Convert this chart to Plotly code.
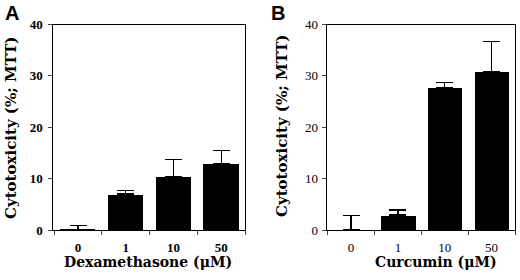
import plotly.graph_objects as go

categories = ["0", "1", "10", "50"]
dexa_values = [0.15, 7.0, 10.4, 13.0]
dexa_errors = [0.75, 0.75, 3.3, 2.5]
curc_values = [0.0, 2.9, 27.7, 30.8]
curc_errors = [2.8, 1.0, 1.0, 5.9]
y_ticks = [0, 10, 20, 30, 40]

SERIF = "Liberation Serif"
TITLE_SERIF = "DejaVu Serif"
fig = go.Figure()

def add_bars(values, errors, xa, ya):
    fig.add_trace(go.Bar(
        x=categories, y=values, xaxis=xa, yaxis=ya,
        marker=dict(color="black", line=dict(width=0)),
        width=0.74,
        error_y=dict(type="data", array=errors, arrayminus=[0]*len(errors),
                     symmetric=False, color="black", thickness=1.3, width=8.5),
        showlegend=False, hoverinfo="skip",
    ))

add_bars(dexa_values, dexa_errors, "x", "y")
add_bars(curc_values, curc_errors, "x2", "y2")

ydom = [1 - 230 / 280, 1 - 24.5 / 280]
common_x = dict(type="category", tickson="boundaries", ticks="outside", ticklen=4,
                showline=True, linecolor="black", linewidth=1, mirror=True,
                showgrid=False, zeroline=False, range=[-0.52, 3.5], automargin=False,
                ticklabelstandoff=5)
common_y = dict(range=[0, 40], tickvals=y_ticks, ticks="outside", ticklen=4,
                showline=True, linecolor="black", linewidth=1, mirror=True,
                showgrid=False, zeroline=False, automargin=False)

fig.update_layout(
    width=520, height=280, margin=dict(l=0, r=0, t=0, b=0),
    paper_bgcolor="white", plot_bgcolor="white",
    bargap=0,
    xaxis=dict(domain=[53.3 / 520, 245 / 520], anchor="y",
               tickfont=dict(family=SERIF, size=13, color="black", weight="bold"), **common_x),
    yaxis=dict(domain=ydom, anchor="x", ticklabelstandoff=3,
               tickfont=dict(family=SERIF, size=13, color="black", weight="bold"), **common_y),
    xaxis2=dict(domain=[326.7 / 520, 515 / 520], anchor="y2",
                tickfont=dict(family=SERIF, size=13, color="black"), **common_x),
    yaxis2=dict(domain=ydom, anchor="x2", ticklabelstandoff=1,
                tickfont=dict(family=SERIF, size=13, color="black"), **common_y),
)

ann = [
    dict(text="<b>A</b>", x=3 / 520, y=1 - 0 / 280, xanchor="left", yanchor="top",
         font=dict(family="Liberation Sans", size=20, color="black")),
    dict(text="<b>B</b>", x=269 / 520, y=1 - 0 / 280, xanchor="left", yanchor="top",
         font=dict(family="Liberation Sans", size=20, color="black")),
    dict(text="<b>Dexamethasone (μM)</b>", x=148 / 520, y=1 - 262 / 280,
         xanchor="center", yanchor="middle",
         font=dict(family=TITLE_SERIF, size=14, color="black")),
    dict(text="<b>Curcumin (μM)</b>", x=436 / 520, y=1 - 262 / 280,
         xanchor="center", yanchor="middle",
         font=dict(family=TITLE_SERIF, size=14, color="black")),
    dict(text="<b>Cytotoxicity (%; MTT)</b>", x=11 / 520, y=1 - 128 / 280, textangle=-90,
         xanchor="center", yanchor="middle",
         font=dict(family=TITLE_SERIF, size=15, color="black")),
    dict(text="<b>Cytotoxicity (%; MTT)</b>", x=282 / 520, y=1 - 126 / 280, textangle=-90,
         xanchor="center", yanchor="middle",
         font=dict(family=TITLE_SERIF, size=15, color="black")),
]
for a in ann:
    a.update(xref="paper", yref="paper", showarrow=False)
fig.update_layout(annotations=ann)

fig.write_html("out.html", config={"displayModeBar": False},
               post_script="document.body.style.margin='0';")
